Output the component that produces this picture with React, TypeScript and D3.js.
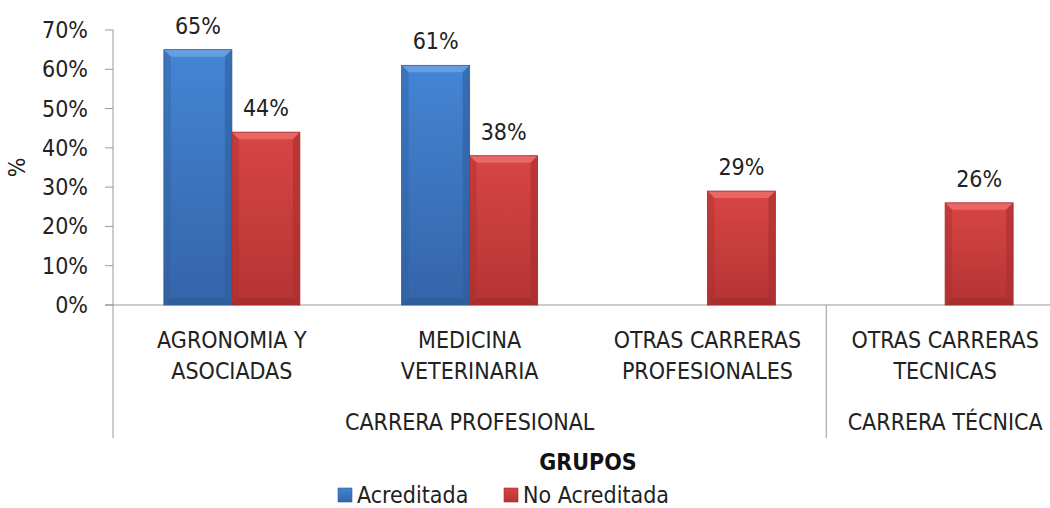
import React from "react";
import * as d3 from "d3";

const categories = [
  ["AGRONOMIA Y", "ASOCIADAS"],
  ["MEDICINA", "VETERINARIA"],
  ["OTRAS CARRERAS", "PROFESIONALES"],
  ["OTRAS CARRERAS", "TECNICAS"],
];
const groups = [
  { name: "CARRERA PROFESIONAL", span: 3 },
  { name: "CARRERA TÉCNICA", span: 1 },
];
const acreditada: (number | null)[] = [0.65, 0.61, null, null];
const noAcreditada: number[] = [0.44, 0.38, 0.29, 0.26];
const seriesNames = ["Acreditada", "No Acreditada"];
const yTicks = [0, 0.1, 0.2, 0.3, 0.4, 0.5, 0.6, 0.7];

const FONT = "'Liberation Sans Narrow', 'DejaVu Sans Condensed', 'Open Sans', sans-serif";
const FS = 23;

const W = 1050, H = 508;
const left = 113, right = 1064, top0 = 305;

function Bar({ x, y, w, h, kind }: { x: number; y: number; w: number; h: number; kind: "b" | "r" }) {
  const b = Math.min(7, h / 2);
  const id = kind === "b" ? "gb" : "gr";
  const topC = kind === "b" ? "#6FA4E6" : "#EC6F6F";
  const sideC = kind === "b" ? "#2F5E9E" : "#A82E2E";
  const botC = kind === "b" ? "#2A5591" : "#9A2929";
  return (
    <g>
      <rect x={x} y={y} width={w} height={h} fill={`url(#${id})`} />
      <polygon points={`${x},${y} ${x + w},${y} ${x + w - b},${y + b} ${x + b},${y + b}`} fill={topC} opacity={0.8} />
      <polygon points={`${x},${y} ${x + b},${y + b} ${x + b},${y + h - b} ${x},${y + h}`} fill={sideC} opacity={0.4} />
      <polygon points={`${x + w},${y} ${x + w - b},${y + b} ${x + w - b},${y + h - b} ${x + w},${y + h}`} fill={sideC} opacity={0.6} />
      <polygon points={`${x},${y + h} ${x + b},${y + h - b} ${x + w - b},${y + h - b} ${x + w},${y + h}`} fill={botC} opacity={0.5} />
      <rect x={x} y={y} width={w} height={h} fill="none" stroke={sideC} strokeWidth={0.8} />
    </g>
  );
}

export default function App() {
  const y = d3.scaleLinear().domain([0, 0.7]).range([top0, 30]);
  const x0 = d3.scaleBand<number>().domain(d3.range(categories.length)).range([left, right]);
  const bw = 68;
  const fmt = d3.format(".0%");
  const bandW = x0.bandwidth();
  const sepX = x0(groups[0].span)!;
  return (
    <svg width={W} height={H} style={{ position: "absolute", left: 0, top: 0 }} fontFamily={FONT}>
      <defs>
        <linearGradient id="gb" x1="0" y1="0" x2="0" y2="1">
          <stop offset="0" stopColor="#4485D4" />
          <stop offset="1" stopColor="#3564A8" />
        </linearGradient>
        <linearGradient id="gr" x1="0" y1="0" x2="0" y2="1">
          <stop offset="0" stopColor="#D84545" />
          <stop offset="1" stopColor="#B53434" />
        </linearGradient>
      </defs>
      <rect width={W} height={H} fill="#fff" />
      {yTicks.map((t) => (
        <g key={t}>
          <line x1={105} x2={left} y1={y(t)} y2={y(t)} stroke="#999" />
          <text x={88} y={y(t)} dy="0.35em" textAnchor="end" fontSize={FS} fill="#222">{fmt(t)}</text>
        </g>
      ))}
      <line x1={left} x2={left} y1={y(0.7)} y2={438} stroke="#999" />
      <line x1={105} x2={W} y1={top0} y2={top0} stroke="#999" />
      <line x1={sepX} x2={sepX} y1={top0} y2={438} stroke="#999" />
      <text transform={`translate(25,${(y(0.7) + top0) / 2}) rotate(-90)`} textAnchor="middle" fontSize={FS} fill="#222">%</text>
      {categories.map((c, i) => {
        const cx = x0(i)! + bandW / 2;
        const a = acreditada[i];
        const n = noAcreditada[i];
        return (
          <g key={i}>
            {a != null && (
              <g>
                <Bar x={cx - bw} y={y(a)} w={bw} h={top0 - y(a)} kind="b" />
                <text x={cx - bw / 2} y={y(a) - 16} textAnchor="middle" fontSize={FS} fill="#222">{fmt(a)}</text>
              </g>
            )}
            <Bar x={cx} y={y(n)} w={bw} h={top0 - y(n)} kind="r" />
            <text x={cx + bw / 2} y={y(n) - 16} textAnchor="middle" fontSize={FS} fill="#222">{fmt(n)}</text>
            {c.map((line, k) => (
              <text key={k} x={cx} y={348 + k * 31} textAnchor="middle" fontSize={FS} fill="#222">{line}</text>
            ))}
          </g>
        );
      })}
      {(() => {
        let start = 0;
        return groups.map((g) => {
          const x1 = x0(start)!;
          const x2 = x0(start + g.span - 1)! + bandW;
          start += g.span;
          const cx = g.span === 1 ? x0(start - 1)! + bandW / 2 : (x1 + x2) / 2;
          return (
            <text key={g.name} x={cx} y={430} textAnchor="middle" fontSize={FS} fill="#222">{g.name}</text>
          );
        });
      })()}
      <text x={588} y={470} textAnchor="middle" fontSize={FS} fontWeight="bold" fill="#111">GRUPOS</text>
      {seriesNames.map((s, i) => {
        const lx = i === 0 ? 338 : 504;
        return (
          <g key={s}>
            <rect x={lx} y={488} width={14} height={14} fill={i === 0 ? "url(#gb)" : "url(#gr)"} stroke={i === 0 ? "#2F5E9E" : "#A82E2E"} strokeWidth={0.6} />
            <text x={lx + 19} y={503} fontSize={FS} fill="#222">{s}</text>
          </g>
        );
      })}
    </svg>
  );
}
